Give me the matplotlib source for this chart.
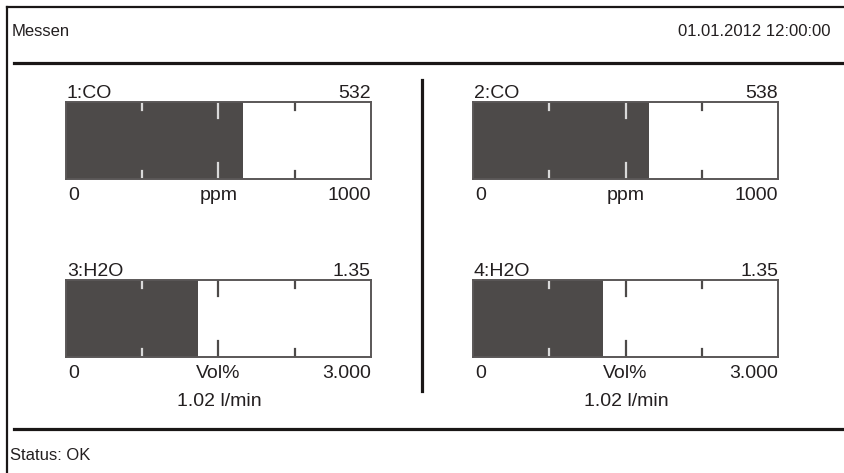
import matplotlib
matplotlib.use("Agg")
import matplotlib.pyplot as plt

plt.rcParams['font.family'] = ['Liberation Sans', 'DejaVu Sans']

# kanaele
names = ["1:CO", "2:CO", "3:H2O", "4:H2O"]
shown = ["532", "538", "1.35", "1.35"]
levels = [580, 577, 1.30, 1.28]        # balkenlaenge wie im bild
scale_max = [1000, 1000, 3.0, 3.0]
min_labels = ["0", "0", "0", "0"]
max_labels = ["1000", "1000", "3.000", "3.000"]
units = ["ppm", "ppm", "Vol%", "Vol%"]
flows = ["", "", "1.02 l/min", "1.02 l/min"]
ticks = [0.25, 0.5, 0.75]   # anteil der skala
header_left = "Messen"
header_right = "01.01.2012 12:00:00"
status = "Status: OK"

W, H = 844, 473
txt = '#231f20'
line = '#1a1716'
fill = '#4d4a49'

fig = plt.figure(figsize=(W / 100, H / 100), dpi=100)
bg = fig.add_axes([0, 0, 1, 1])
bg.set_xlim(0, W)
bg.set_ylim(H, 0)
bg.axis("off")

# rahmen
bg.plot([7, 7], [7, H], color=line, lw=1.6)
bg.plot([7, W], [7, 7], color=line, lw=1.6)
bg.plot([14, W], [63, 63], color=line, lw=2.3)
bg.plot([14, W], [429, 429], color=line, lw=2.3)
bg.plot([422, 422], [80, 391], color=line, lw=2.3)

bg.text(12, 32, header_left, fontsize=12, color=txt, va='center', ha='left')
bg.text(831, 32, header_right, fontsize=12, color=txt, va='center', ha='right')
bg.text(10, 455, status, fontsize=12, color=txt, va='center', ha='left')

# balken positionen (pixel)
lefts = [66, 473, 66, 473]
tops = [102, 102, 280, 280]
bw, bh = 305, 77

for i in range(4):
    x0, y0 = lefts[i], tops[i]
    ax = fig.add_axes([x0 / W, 1 - (y0 + bh) / H, bw / W, bh / H])
    ax.set_xlim(0, scale_max[i])
    ax.set_ylim(0, 1)
    ax.barh(0.5, levels[i], height=1, color=fill, zorder=1)
    for t in ticks:
        v = t * scale_max[i]
        c = '#d9d9d9' if v < levels[i] else fill
        ln = 0.21 if t == 0.5 else 0.1
        ax.axvline(v, 1 - ln, 1, color=c, lw=1.6, zorder=2)
        ax.axvline(v, 0, ln, color=c, lw=1.6, zorder=2)
    ax.set_xticks([])
    ax.set_yticks([])
    for s in ax.spines.values():
        s.set_color('#5a5757')
        s.set_linewidth(1.4)
        s.set_zorder(3)

    xr = x0 + bw
    xm = x0 + bw / 2
    bg.text(x0 + 1, y0 - 4, names[i], fontsize=14, color=txt, ha='left', va='baseline')
    bg.text(xr, y0 - 4, shown[i], fontsize=14, color=txt, ha='right', va='baseline')
    yb = y0 + bh + 21
    bg.text(x0 + 2, yb, min_labels[i], fontsize=14, color=txt, ha='left', va='baseline')
    bg.text(xm, yb, units[i], fontsize=14, color=txt, ha='center', va='baseline')
    bg.text(xr, yb, max_labels[i], fontsize=14, color=txt, ha='right', va='baseline')
    if flows[i]:
        bg.text(xm + 1, yb + 28, flows[i], fontsize=14, color=txt, ha='center', va='baseline')

fig.savefig("out.png", dpi=100)
